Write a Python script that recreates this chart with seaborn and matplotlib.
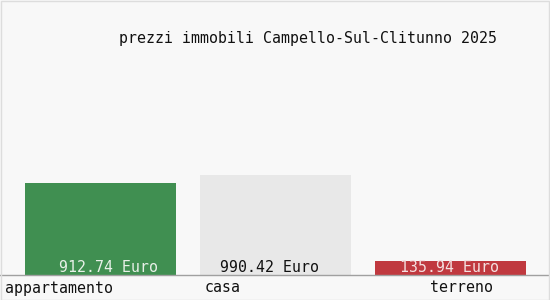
import matplotlib
matplotlib.use("Agg")
import matplotlib.pyplot as plt
import seaborn as sns
import pandas as pd
from matplotlib.patches import Rectangle

categories = ["appartamento", "casa", "terreno"]
values = [912.74, 990.42, 135.94]
value_labels = ["912.74 Euro", "990.42 Euro", "135.94 Euro"]
title = "prezzi immobili Campello-Sul-Clitunno 2025"

bar_colors = ["#408f51", "#e8e8e8", "#c0393f"]
label_colors = ["#e8f0e8", "#111111", "#f4e0e0"]

sns.set_theme(style="white")
plt.rcParams["font.family"] = ["DejaVu Sans Mono"]

W, H, DPI = 550, 300, 100
fig = plt.figure(figsize=(W / DPI, H / DPI), dpi=DPI)
fig.patch.set_facecolor("#f8f8f8")

# axes: full width, bottom at pixel 275, top at pixel 55
ax_bottom_px, ax_top_px = 275, 55
ax = fig.add_axes([0, (H - ax_bottom_px) / H, 1, (ax_bottom_px - ax_top_px) / H])
ax.set_facecolor("#f8f8f8")

df = pd.DataFrame({"cat": categories, "val": values})
sns.barplot(data=df, x="cat", y="val", hue="cat", palette=bar_colors,
            width=151 / 175, saturation=1, legend=False, linewidth=0,
            edgecolor="none", ax=ax)

slot_px = 175
center0_px = 100.5
ax.set_xlim(-center0_px / slot_px, (W - center0_px) / slot_px)
px_per_unit = 100 / values[1]
ax.set_ylim(0, (ax_bottom_px - ax_top_px) / px_per_unit)

for s in ["top", "right", "left"]:
    ax.spines[s].set_visible(False)
ax.spines["bottom"].set_color("#a0a0a0")
ax.spines["bottom"].set_linewidth(1)
ax.set_xticks([])
ax.set_yticks([])
ax.set_xlabel("")
ax.set_ylabel("")

fs = 10.7
label_dx_px = [8, -6, -1]
for i, (lab, col, dx) in enumerate(zip(value_labels, label_colors, label_dx_px)):
    ax.annotate(lab, xy=(i, 0), xytext=(dx, 7), textcoords="offset pixels",
                ha="center", va="center", fontsize=fs, color=col)

# category labels below axis (left-aligned, pixel positions)
label_x_px = [5, 205, 430]
for lab, xp in zip(categories, label_x_px):
    fig.text(xp / W, 1 - 288 / H, lab, ha="left", va="center",
             fontsize=fs, color="#111111")

fig.text(308 / W, 1 - 38 / H, title, ha="center", va="center",
         fontsize=fs, color="#111111")

# faint frame around the image
fig.patches.append(Rectangle((0.5 / W, 0.5 / H), (W - 1.5) / W, (H - 1.5) / H,
                             transform=fig.transFigure, fill=False,
                             edgecolor="#dddddd", linewidth=1))

fig.savefig("out.png", dpi=DPI, facecolor=fig.get_facecolor())
